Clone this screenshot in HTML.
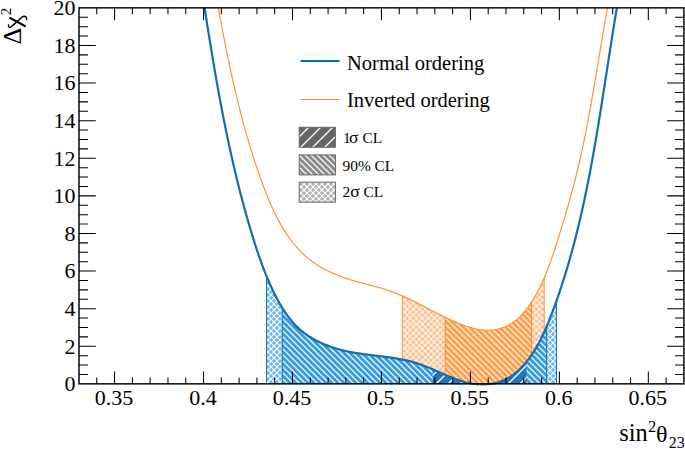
<!DOCTYPE html>
<html><head><meta charset="utf-8"><title>chart</title>
<style>html,body{margin:0;padding:0;background:#fff;}body{width:685px;height:449px;overflow:hidden;position:relative;font-family:"Liberation Serif",serif;}</style>
</head><body>
<svg width="685" height="449" viewBox="0 0 685 449" style="position:absolute;left:0;top:0">
<defs>
<pattern id="h1" patternUnits="userSpaceOnUse" width="12" height="12" patternTransform="translate(4,0)"><path d="M-3,15 L15,-3 M-15,15 L3,-3 M9,15 L27,-3" stroke="#fff" stroke-width="1.3"/></pattern>
<pattern id="h90" patternUnits="userSpaceOnUse" width="6" height="6"><path d="M-3,-3 L9,9 M-9,-3 L3,9 M3,-3 L15,9" stroke="#fff" stroke-width="1.3" stroke-opacity="0.92"/></pattern>
<pattern id="h90o" patternUnits="userSpaceOnUse" width="6" height="6" patternTransform="translate(1.3,0)"><path d="M-3,-3 L9,9 M-9,-3 L3,9 M3,-3 L15,9" stroke="#fff" stroke-width="1.3" stroke-opacity="0.92"/></pattern>
<pattern id="h2" patternUnits="userSpaceOnUse" width="6" height="6"><path d="M-3,-3 L9,9 M-9,-3 L3,9 M3,-3 L15,9 M-3,9 L9,-3 M-9,9 L3,-3 M3,9 L15,-3" stroke="#fff" stroke-width="1.8"/></pattern>
<pattern id="d2b" patternUnits="userSpaceOnUse" width="6" height="6" patternTransform="translate(1,1)"><path d="M0.75,0 L3,-2.25 L5.25,0 L3,2.25 Z M0.75,6 L3,3.75 L5.25,6 L3,8.25 Z M-2.25,3 L0,0.75 L2.25,3 L0,5.25 Z M3.75,3 L6,0.75 L8.25,3 L6,5.25 Z" fill="#70b8ea"/></pattern>
<pattern id="d2o" patternUnits="userSpaceOnUse" width="6" height="6" patternTransform="translate(2.3,0.2)"><path d="M0.75,0 L3,-2.25 L5.25,0 L3,2.25 Z M0.75,6 L3,3.75 L5.25,6 L3,8.25 Z M-2.25,3 L0,0.75 L2.25,3 L0,5.25 Z M3.75,3 L6,0.75 L8.25,3 L6,5.25 Z" fill="#ffbb85"/></pattern>
<pattern id="d2g" patternUnits="userSpaceOnUse" width="6" height="6" patternTransform="translate(1,1)"><path d="M0.75,0 L3,-2.25 L5.25,0 L3,2.25 Z M0.75,6 L3,3.75 L5.25,6 L3,8.25 Z M-2.25,3 L0,0.75 L2.25,3 L0,5.25 Z M3.75,3 L6,0.75 L8.25,3 L6,5.25 Z" fill="#b2b2b2"/></pattern>
<clipPath id="fr"><rect x="79.00" y="7.85" width="604.90" height="377.60"/></clipPath>
</defs>
<g clip-path="url(#fr)">
<path d="M402.30,383.85 L402.30,295.93 L402.78,296.14 L403.87,296.63 L404.96,297.12 L406.05,297.61 L407.14,298.12 L408.23,298.62 L409.31,299.13 L410.39,299.65 L411.47,300.17 L412.55,300.69 L413.63,301.22 L414.70,301.75 L415.78,302.28 L416.85,302.82 L417.93,303.35 L419.00,303.90 L420.07,304.44 L421.13,304.98 L422.20,305.53 L423.27,306.08 L424.33,306.63 L425.40,307.18 L426.46,307.73 L427.52,308.29 L428.59,308.84 L429.65,309.39 L430.71,309.94 L431.77,310.50 L432.84,311.05 L433.90,311.60 L434.97,312.15 L436.03,312.70 L437.10,313.25 L438.17,313.79 L439.24,314.34 L440.31,314.88 L441.39,315.42 L442.47,315.96 L443.55,316.49 L444.64,317.02 L445.73,317.55 L446.82,318.07 L447.92,318.59 L449.02,319.11 L450.12,319.62 L451.23,320.13 L452.35,320.63 L453.47,321.13 L454.60,321.62 L455.73,322.11 L456.86,322.59 L458.01,323.06 L459.15,323.53 L460.31,323.99 L461.46,324.43 L462.62,324.87 L463.78,325.30 L464.95,325.71 L466.12,326.12 L467.29,326.50 L468.47,326.88 L469.64,327.24 L470.82,327.58 L472.00,327.90 L473.18,328.21 L474.36,328.50 L475.55,328.77 L476.73,329.02 L477.91,329.25 L479.09,329.46 L480.28,329.65 L481.46,329.81 L482.63,329.95 L483.81,330.06 L484.99,330.15 L486.16,330.21 L487.33,330.24 L488.50,330.24 L489.66,330.22 L490.82,330.16 L491.98,330.08 L493.13,329.96 L494.28,329.81 L495.42,329.63 L496.56,329.42 L497.69,329.18 L498.81,328.91 L499.92,328.61 L501.03,328.28 L502.13,327.91 L503.21,327.52 L504.29,327.11 L505.35,326.66 L506.41,326.18 L507.45,325.68 L508.47,325.15 L509.49,324.59 L510.49,324.00 L511.47,323.39 L512.44,322.75 L513.40,322.09 L514.34,321.40 L515.27,320.69 L516.19,319.95 L517.09,319.19 L517.98,318.42 L518.85,317.62 L519.72,316.80 L520.57,315.96 L521.40,315.10 L522.23,314.23 L523.04,313.34 L523.84,312.43 L524.63,311.50 L525.41,310.56 L526.17,309.61 L526.92,308.64 L527.66,307.66 L528.39,306.67 L529.11,305.66 L529.82,304.65 L530.52,303.62 L531.20,302.59 L531.88,301.54 L532.54,300.49 L533.19,299.43 L533.84,298.37 L534.47,297.30 L535.09,296.22 L535.71,295.14 L536.31,294.06 L536.90,292.97 L537.49,291.88 L538.06,290.79 L538.63,289.70 L539.19,288.61 L539.74,287.51 L540.28,286.42 L540.81,285.33 L541.33,284.23 L541.85,283.14 L542.35,282.04 L542.85,280.94 L543.35,279.85 L543.83,278.75 L544.20,277.90 L544.20,383.85 Z" fill="#fff"/>
<path d="M402.30,383.85 L402.30,295.93 L402.78,296.14 L403.87,296.63 L404.96,297.12 L406.05,297.61 L407.14,298.12 L408.23,298.62 L409.31,299.13 L410.39,299.65 L411.47,300.17 L412.55,300.69 L413.63,301.22 L414.70,301.75 L415.78,302.28 L416.85,302.82 L417.93,303.35 L419.00,303.90 L420.07,304.44 L421.13,304.98 L422.20,305.53 L423.27,306.08 L424.33,306.63 L425.40,307.18 L426.46,307.73 L427.52,308.29 L428.59,308.84 L429.65,309.39 L430.71,309.94 L431.77,310.50 L432.84,311.05 L433.90,311.60 L434.97,312.15 L436.03,312.70 L437.10,313.25 L438.17,313.79 L439.24,314.34 L440.31,314.88 L441.39,315.42 L442.47,315.96 L443.55,316.49 L444.64,317.02 L445.73,317.55 L446.82,318.07 L447.92,318.59 L449.02,319.11 L450.12,319.62 L451.23,320.13 L452.35,320.63 L453.47,321.13 L454.60,321.62 L455.73,322.11 L456.86,322.59 L458.01,323.06 L459.15,323.53 L460.31,323.99 L461.46,324.43 L462.62,324.87 L463.78,325.30 L464.95,325.71 L466.12,326.12 L467.29,326.50 L468.47,326.88 L469.64,327.24 L470.82,327.58 L472.00,327.90 L473.18,328.21 L474.36,328.50 L475.55,328.77 L476.73,329.02 L477.91,329.25 L479.09,329.46 L480.28,329.65 L481.46,329.81 L482.63,329.95 L483.81,330.06 L484.99,330.15 L486.16,330.21 L487.33,330.24 L488.50,330.24 L489.66,330.22 L490.82,330.16 L491.98,330.08 L493.13,329.96 L494.28,329.81 L495.42,329.63 L496.56,329.42 L497.69,329.18 L498.81,328.91 L499.92,328.61 L501.03,328.28 L502.13,327.91 L503.21,327.52 L504.29,327.11 L505.35,326.66 L506.41,326.18 L507.45,325.68 L508.47,325.15 L509.49,324.59 L510.49,324.00 L511.47,323.39 L512.44,322.75 L513.40,322.09 L514.34,321.40 L515.27,320.69 L516.19,319.95 L517.09,319.19 L517.98,318.42 L518.85,317.62 L519.72,316.80 L520.57,315.96 L521.40,315.10 L522.23,314.23 L523.04,313.34 L523.84,312.43 L524.63,311.50 L525.41,310.56 L526.17,309.61 L526.92,308.64 L527.66,307.66 L528.39,306.67 L529.11,305.66 L529.82,304.65 L530.52,303.62 L531.20,302.59 L531.88,301.54 L532.54,300.49 L533.19,299.43 L533.84,298.37 L534.47,297.30 L535.09,296.22 L535.71,295.14 L536.31,294.06 L536.90,292.97 L537.49,291.88 L538.06,290.79 L538.63,289.70 L539.19,288.61 L539.74,287.51 L540.28,286.42 L540.81,285.33 L541.33,284.23 L541.85,283.14 L542.35,282.04 L542.85,280.94 L543.35,279.85 L543.83,278.75 L544.20,277.90 L544.20,383.85 Z" fill="url(#d2o)"/>
<path d="M445.20,383.85 L445.20,317.29 L445.73,317.55 L446.82,318.07 L447.92,318.59 L449.02,319.11 L450.12,319.62 L451.23,320.13 L452.35,320.63 L453.47,321.13 L454.60,321.62 L455.73,322.11 L456.86,322.59 L458.01,323.06 L459.15,323.53 L460.31,323.99 L461.46,324.43 L462.62,324.87 L463.78,325.30 L464.95,325.71 L466.12,326.12 L467.29,326.50 L468.47,326.88 L469.64,327.24 L470.82,327.58 L472.00,327.90 L473.18,328.21 L474.36,328.50 L475.55,328.77 L476.73,329.02 L477.91,329.25 L479.09,329.46 L480.28,329.65 L481.46,329.81 L482.63,329.95 L483.81,330.06 L484.99,330.15 L486.16,330.21 L487.33,330.24 L488.50,330.24 L489.66,330.22 L490.82,330.16 L491.98,330.08 L493.13,329.96 L494.28,329.81 L495.42,329.63 L496.56,329.42 L497.69,329.18 L498.81,328.91 L499.92,328.61 L501.03,328.28 L502.13,327.91 L503.21,327.52 L504.29,327.11 L505.35,326.66 L506.41,326.18 L507.45,325.68 L508.47,325.15 L509.49,324.59 L510.49,324.00 L511.47,323.39 L512.44,322.75 L513.40,322.09 L514.34,321.40 L515.27,320.69 L516.19,319.95 L517.09,319.19 L517.98,318.42 L518.85,317.62 L519.72,316.80 L520.57,315.96 L521.40,315.10 L522.23,314.23 L523.04,313.34 L523.84,312.43 L524.63,311.50 L525.41,310.56 L526.17,309.61 L526.92,308.64 L527.66,307.66 L528.39,306.67 L529.11,305.66 L529.82,304.65 L530.52,303.62 L531.20,302.59 L531.70,301.82 L531.70,383.85 Z" fill="#ff9a45"/>
<path d="M445.20,383.85 L445.20,317.29 L445.73,317.55 L446.82,318.07 L447.92,318.59 L449.02,319.11 L450.12,319.62 L451.23,320.13 L452.35,320.63 L453.47,321.13 L454.60,321.62 L455.73,322.11 L456.86,322.59 L458.01,323.06 L459.15,323.53 L460.31,323.99 L461.46,324.43 L462.62,324.87 L463.78,325.30 L464.95,325.71 L466.12,326.12 L467.29,326.50 L468.47,326.88 L469.64,327.24 L470.82,327.58 L472.00,327.90 L473.18,328.21 L474.36,328.50 L475.55,328.77 L476.73,329.02 L477.91,329.25 L479.09,329.46 L480.28,329.65 L481.46,329.81 L482.63,329.95 L483.81,330.06 L484.99,330.15 L486.16,330.21 L487.33,330.24 L488.50,330.24 L489.66,330.22 L490.82,330.16 L491.98,330.08 L493.13,329.96 L494.28,329.81 L495.42,329.63 L496.56,329.42 L497.69,329.18 L498.81,328.91 L499.92,328.61 L501.03,328.28 L502.13,327.91 L503.21,327.52 L504.29,327.11 L505.35,326.66 L506.41,326.18 L507.45,325.68 L508.47,325.15 L509.49,324.59 L510.49,324.00 L511.47,323.39 L512.44,322.75 L513.40,322.09 L514.34,321.40 L515.27,320.69 L516.19,319.95 L517.09,319.19 L517.98,318.42 L518.85,317.62 L519.72,316.80 L520.57,315.96 L521.40,315.10 L522.23,314.23 L523.04,313.34 L523.84,312.43 L524.63,311.50 L525.41,310.56 L526.17,309.61 L526.92,308.64 L527.66,307.66 L528.39,306.67 L529.11,305.66 L529.82,304.65 L530.52,303.62 L531.20,302.59 L531.70,301.82 L531.70,383.85 Z" fill="url(#h90o)"/>
<line x1="402.3" x2="402.3" y1="295.93" y2="383.85" stroke="#ff8f2e" stroke-width="1"/>
<line x1="544.2" x2="544.2" y1="277.90" y2="383.85" stroke="#ff8f2e" stroke-width="1"/>
<line x1="445.2" x2="445.2" y1="317.29" y2="383.85" stroke="#ff8f2e" stroke-width="1"/>
<line x1="531.7" x2="531.7" y1="301.82" y2="383.85" stroke="#ff8f2e" stroke-width="1"/>
<path d="M266.60,383.85 L266.60,276.24 L266.89,276.94 L267.42,278.22 L267.96,279.50 L268.51,280.77 L269.07,282.05 L269.63,283.32 L270.19,284.59 L270.77,285.86 L271.35,287.13 L271.94,288.39 L272.54,289.66 L273.14,290.92 L273.75,292.18 L274.37,293.44 L274.99,294.69 L275.63,295.95 L276.27,297.20 L276.92,298.44 L277.58,299.68 L278.26,300.92 L278.94,302.15 L279.63,303.37 L280.33,304.59 L281.04,305.80 L281.76,307.00 L282.49,308.19 L283.23,309.38 L283.99,310.55 L284.76,311.72 L285.54,312.87 L286.33,314.02 L287.13,315.15 L287.95,316.27 L288.78,317.37 L289.62,318.46 L290.48,319.54 L291.35,320.61 L292.24,321.66 L293.14,322.69 L294.06,323.71 L294.99,324.71 L295.93,325.69 L296.90,326.66 L297.88,327.61 L298.87,328.54 L299.88,329.45 L300.91,330.34 L301.95,331.21 L303.01,332.06 L304.09,332.90 L305.18,333.71 L306.28,334.51 L307.40,335.28 L308.53,336.04 L309.67,336.79 L310.83,337.51 L312.00,338.22 L313.18,338.90 L314.38,339.58 L315.58,340.23 L316.79,340.87 L318.02,341.49 L319.25,342.09 L320.50,342.68 L321.75,343.25 L323.01,343.80 L324.28,344.34 L325.56,344.87 L326.85,345.38 L328.14,345.87 L329.44,346.35 L330.74,346.81 L332.05,347.26 L333.37,347.69 L334.69,348.11 L336.02,348.51 L337.35,348.90 L338.68,349.28 L340.02,349.64 L341.35,349.99 L342.70,350.33 L344.04,350.65 L345.39,350.96 L346.73,351.26 L348.08,351.54 L349.43,351.82 L350.78,352.08 L352.13,352.33 L353.49,352.58 L354.84,352.81 L356.19,353.04 L357.55,353.25 L358.91,353.46 L360.27,353.67 L361.62,353.86 L362.98,354.05 L364.34,354.24 L365.70,354.42 L367.06,354.60 L368.42,354.77 L369.79,354.94 L371.15,355.11 L372.51,355.28 L373.87,355.44 L375.23,355.60 L376.59,355.77 L377.96,355.93 L379.32,356.10 L380.68,356.26 L382.04,356.43 L383.40,356.60 L384.76,356.78 L386.12,356.95 L387.48,357.14 L388.84,357.32 L390.20,357.51 L391.55,357.71 L392.91,357.92 L394.26,358.13 L395.62,358.35 L396.97,358.57 L398.32,358.81 L399.67,359.06 L401.02,359.31 L402.37,359.58 L403.72,359.85 L405.06,360.14 L406.41,360.44 L407.75,360.75 L409.09,361.08 L410.43,361.42 L411.76,361.77 L413.10,362.14 L414.43,362.52 L415.76,362.92 L417.09,363.34 L418.41,363.77 L419.74,364.22 L421.06,364.68 L422.38,365.16 L423.70,365.66 L425.02,366.16 L426.33,366.68 L427.64,367.21 L428.96,367.75 L430.27,368.30 L431.58,368.85 L432.89,369.41 L434.19,369.97 L435.50,370.54 L436.81,371.11 L438.11,371.69 L439.42,372.26 L440.72,372.84 L442.03,373.41 L443.33,373.98 L444.64,374.54 L445.94,375.11 L447.25,375.66 L448.55,376.21 L449.86,376.75 L451.17,377.29 L452.47,377.81 L453.78,378.32 L455.09,378.82 L456.40,379.31 L457.71,379.78 L459.03,380.23 L460.34,380.67 L461.66,381.10 L462.97,381.50 L464.29,381.88 L465.61,382.25 L466.94,382.59 L468.26,382.91 L469.59,383.20 L470.92,383.47 L472.25,383.71 L473.59,383.93 L474.93,384.12 L476.27,384.28 L477.61,384.40 L478.96,384.50 L480.31,384.56 L481.66,384.59 L483.01,384.59 L484.37,384.56 L485.72,384.49 L487.07,384.39 L488.42,384.26 L489.76,384.09 L491.10,383.89 L492.44,383.66 L493.77,383.39 L495.09,383.09 L496.40,382.76 L497.71,382.40 L499.00,382.00 L500.28,381.57 L501.55,381.10 L502.81,380.60 L504.05,380.07 L505.28,379.50 L506.49,378.90 L507.69,378.27 L508.87,377.60 L510.03,376.90 L511.17,376.17 L512.29,375.41 L513.40,374.62 L514.49,373.80 L515.56,372.95 L516.62,372.07 L517.66,371.17 L518.68,370.25 L519.68,369.30 L520.67,368.33 L521.64,367.34 L522.60,366.33 L523.54,365.30 L524.47,364.26 L525.37,363.19 L526.27,362.11 L527.14,361.02 L528.01,359.91 L528.85,358.79 L529.68,357.65 L530.50,356.51 L531.30,355.35 L532.09,354.19 L532.86,353.02 L533.62,351.84 L534.36,350.66 L535.09,349.47 L535.81,348.28 L536.52,347.07 L537.21,345.87 L537.89,344.65 L538.55,343.43 L539.21,342.21 L539.85,340.98 L540.49,339.75 L541.11,338.51 L541.73,337.27 L542.33,336.02 L542.92,334.77 L543.51,333.52 L544.09,332.26 L544.66,331.00 L545.22,329.73 L545.77,328.46 L546.32,327.19 L546.86,325.92 L547.39,324.64 L547.92,323.36 L548.44,322.08 L548.96,320.80 L549.47,319.51 L549.98,318.23 L550.48,316.94 L550.98,315.65 L551.48,314.36 L551.97,313.07 L552.46,311.77 L552.95,310.48 L553.43,309.18 L553.91,307.89 L554.39,306.59 L554.86,305.30 L555.33,304.00 L555.80,302.70 L556.27,301.40 L556.50,300.75 L556.50,383.85 Z" fill="#fff"/>
<path d="M266.60,383.85 L266.60,276.24 L266.89,276.94 L267.42,278.22 L267.96,279.50 L268.51,280.77 L269.07,282.05 L269.63,283.32 L270.19,284.59 L270.77,285.86 L271.35,287.13 L271.94,288.39 L272.54,289.66 L273.14,290.92 L273.75,292.18 L274.37,293.44 L274.99,294.69 L275.63,295.95 L276.27,297.20 L276.92,298.44 L277.58,299.68 L278.26,300.92 L278.94,302.15 L279.63,303.37 L280.33,304.59 L281.04,305.80 L281.76,307.00 L282.49,308.19 L283.23,309.38 L283.99,310.55 L284.76,311.72 L285.54,312.87 L286.33,314.02 L287.13,315.15 L287.95,316.27 L288.78,317.37 L289.62,318.46 L290.48,319.54 L291.35,320.61 L292.24,321.66 L293.14,322.69 L294.06,323.71 L294.99,324.71 L295.93,325.69 L296.90,326.66 L297.88,327.61 L298.87,328.54 L299.88,329.45 L300.91,330.34 L301.95,331.21 L303.01,332.06 L304.09,332.90 L305.18,333.71 L306.28,334.51 L307.40,335.28 L308.53,336.04 L309.67,336.79 L310.83,337.51 L312.00,338.22 L313.18,338.90 L314.38,339.58 L315.58,340.23 L316.79,340.87 L318.02,341.49 L319.25,342.09 L320.50,342.68 L321.75,343.25 L323.01,343.80 L324.28,344.34 L325.56,344.87 L326.85,345.38 L328.14,345.87 L329.44,346.35 L330.74,346.81 L332.05,347.26 L333.37,347.69 L334.69,348.11 L336.02,348.51 L337.35,348.90 L338.68,349.28 L340.02,349.64 L341.35,349.99 L342.70,350.33 L344.04,350.65 L345.39,350.96 L346.73,351.26 L348.08,351.54 L349.43,351.82 L350.78,352.08 L352.13,352.33 L353.49,352.58 L354.84,352.81 L356.19,353.04 L357.55,353.25 L358.91,353.46 L360.27,353.67 L361.62,353.86 L362.98,354.05 L364.34,354.24 L365.70,354.42 L367.06,354.60 L368.42,354.77 L369.79,354.94 L371.15,355.11 L372.51,355.28 L373.87,355.44 L375.23,355.60 L376.59,355.77 L377.96,355.93 L379.32,356.10 L380.68,356.26 L382.04,356.43 L383.40,356.60 L384.76,356.78 L386.12,356.95 L387.48,357.14 L388.84,357.32 L390.20,357.51 L391.55,357.71 L392.91,357.92 L394.26,358.13 L395.62,358.35 L396.97,358.57 L398.32,358.81 L399.67,359.06 L401.02,359.31 L402.37,359.58 L403.72,359.85 L405.06,360.14 L406.41,360.44 L407.75,360.75 L409.09,361.08 L410.43,361.42 L411.76,361.77 L413.10,362.14 L414.43,362.52 L415.76,362.92 L417.09,363.34 L418.41,363.77 L419.74,364.22 L421.06,364.68 L422.38,365.16 L423.70,365.66 L425.02,366.16 L426.33,366.68 L427.64,367.21 L428.96,367.75 L430.27,368.30 L431.58,368.85 L432.89,369.41 L434.19,369.97 L435.50,370.54 L436.81,371.11 L438.11,371.69 L439.42,372.26 L440.72,372.84 L442.03,373.41 L443.33,373.98 L444.64,374.54 L445.94,375.11 L447.25,375.66 L448.55,376.21 L449.86,376.75 L451.17,377.29 L452.47,377.81 L453.78,378.32 L455.09,378.82 L456.40,379.31 L457.71,379.78 L459.03,380.23 L460.34,380.67 L461.66,381.10 L462.97,381.50 L464.29,381.88 L465.61,382.25 L466.94,382.59 L468.26,382.91 L469.59,383.20 L470.92,383.47 L472.25,383.71 L473.59,383.93 L474.93,384.12 L476.27,384.28 L477.61,384.40 L478.96,384.50 L480.31,384.56 L481.66,384.59 L483.01,384.59 L484.37,384.56 L485.72,384.49 L487.07,384.39 L488.42,384.26 L489.76,384.09 L491.10,383.89 L492.44,383.66 L493.77,383.39 L495.09,383.09 L496.40,382.76 L497.71,382.40 L499.00,382.00 L500.28,381.57 L501.55,381.10 L502.81,380.60 L504.05,380.07 L505.28,379.50 L506.49,378.90 L507.69,378.27 L508.87,377.60 L510.03,376.90 L511.17,376.17 L512.29,375.41 L513.40,374.62 L514.49,373.80 L515.56,372.95 L516.62,372.07 L517.66,371.17 L518.68,370.25 L519.68,369.30 L520.67,368.33 L521.64,367.34 L522.60,366.33 L523.54,365.30 L524.47,364.26 L525.37,363.19 L526.27,362.11 L527.14,361.02 L528.01,359.91 L528.85,358.79 L529.68,357.65 L530.50,356.51 L531.30,355.35 L532.09,354.19 L532.86,353.02 L533.62,351.84 L534.36,350.66 L535.09,349.47 L535.81,348.28 L536.52,347.07 L537.21,345.87 L537.89,344.65 L538.55,343.43 L539.21,342.21 L539.85,340.98 L540.49,339.75 L541.11,338.51 L541.73,337.27 L542.33,336.02 L542.92,334.77 L543.51,333.52 L544.09,332.26 L544.66,331.00 L545.22,329.73 L545.77,328.46 L546.32,327.19 L546.86,325.92 L547.39,324.64 L547.92,323.36 L548.44,322.08 L548.96,320.80 L549.47,319.51 L549.98,318.23 L550.48,316.94 L550.98,315.65 L551.48,314.36 L551.97,313.07 L552.46,311.77 L552.95,310.48 L553.43,309.18 L553.91,307.89 L554.39,306.59 L554.86,305.30 L555.33,304.00 L555.80,302.70 L556.27,301.40 L556.50,300.75 L556.50,383.85 Z" fill="url(#d2b)"/>
<path d="M282.30,383.85 L282.30,307.89 L282.49,308.19 L283.23,309.38 L283.99,310.55 L284.76,311.72 L285.54,312.87 L286.33,314.02 L287.13,315.15 L287.95,316.27 L288.78,317.37 L289.62,318.46 L290.48,319.54 L291.35,320.61 L292.24,321.66 L293.14,322.69 L294.06,323.71 L294.99,324.71 L295.93,325.69 L296.90,326.66 L297.88,327.61 L298.87,328.54 L299.88,329.45 L300.91,330.34 L301.95,331.21 L303.01,332.06 L304.09,332.90 L305.18,333.71 L306.28,334.51 L307.40,335.28 L308.53,336.04 L309.67,336.79 L310.83,337.51 L312.00,338.22 L313.18,338.90 L314.38,339.58 L315.58,340.23 L316.79,340.87 L318.02,341.49 L319.25,342.09 L320.50,342.68 L321.75,343.25 L323.01,343.80 L324.28,344.34 L325.56,344.87 L326.85,345.38 L328.14,345.87 L329.44,346.35 L330.74,346.81 L332.05,347.26 L333.37,347.69 L334.69,348.11 L336.02,348.51 L337.35,348.90 L338.68,349.28 L340.02,349.64 L341.35,349.99 L342.70,350.33 L344.04,350.65 L345.39,350.96 L346.73,351.26 L348.08,351.54 L349.43,351.82 L350.78,352.08 L352.13,352.33 L353.49,352.58 L354.84,352.81 L356.19,353.04 L357.55,353.25 L358.91,353.46 L360.27,353.67 L361.62,353.86 L362.98,354.05 L364.34,354.24 L365.70,354.42 L367.06,354.60 L368.42,354.77 L369.79,354.94 L371.15,355.11 L372.51,355.28 L373.87,355.44 L375.23,355.60 L376.59,355.77 L377.96,355.93 L379.32,356.10 L380.68,356.26 L382.04,356.43 L383.40,356.60 L384.76,356.78 L386.12,356.95 L387.48,357.14 L388.84,357.32 L390.20,357.51 L391.55,357.71 L392.91,357.92 L394.26,358.13 L395.62,358.35 L396.97,358.57 L398.32,358.81 L399.67,359.06 L401.02,359.31 L402.37,359.58 L403.72,359.85 L405.06,360.14 L406.41,360.44 L407.75,360.75 L409.09,361.08 L410.43,361.42 L411.76,361.77 L413.10,362.14 L414.43,362.52 L415.76,362.92 L417.09,363.34 L418.41,363.77 L419.74,364.22 L421.06,364.68 L422.38,365.16 L423.70,365.66 L425.02,366.16 L426.33,366.68 L427.64,367.21 L428.96,367.75 L430.27,368.30 L431.58,368.85 L432.89,369.41 L434.19,369.97 L435.50,370.54 L436.81,371.11 L438.11,371.69 L439.42,372.26 L440.72,372.84 L442.03,373.41 L443.33,373.98 L444.64,374.54 L445.94,375.11 L447.25,375.66 L448.55,376.21 L449.86,376.75 L451.17,377.29 L452.47,377.81 L453.78,378.32 L455.09,378.82 L456.40,379.31 L457.71,379.78 L459.03,380.23 L460.34,380.67 L461.66,381.10 L462.97,381.50 L464.29,381.88 L465.61,382.25 L466.94,382.59 L468.26,382.91 L469.59,383.20 L470.92,383.47 L472.25,383.71 L473.59,383.93 L474.93,384.12 L476.27,384.28 L477.61,384.40 L478.96,384.50 L480.31,384.56 L481.66,384.59 L483.01,384.59 L484.37,384.56 L485.72,384.49 L487.07,384.39 L488.42,384.26 L489.76,384.09 L491.10,383.89 L492.44,383.66 L493.77,383.39 L495.09,383.09 L496.40,382.76 L497.71,382.40 L499.00,382.00 L500.28,381.57 L501.55,381.10 L502.81,380.60 L504.05,380.07 L505.28,379.50 L506.49,378.90 L507.69,378.27 L508.87,377.60 L510.03,376.90 L511.17,376.17 L512.29,375.41 L513.40,374.62 L514.49,373.80 L515.56,372.95 L516.62,372.07 L517.66,371.17 L518.68,370.25 L519.68,369.30 L520.67,368.33 L521.64,367.34 L522.60,366.33 L523.54,365.30 L524.47,364.26 L525.37,363.19 L526.27,362.11 L527.14,361.02 L528.01,359.91 L528.85,358.79 L529.68,357.65 L530.50,356.51 L531.30,355.35 L532.09,354.19 L532.86,353.02 L533.62,351.84 L534.36,350.66 L535.09,349.47 L535.81,348.28 L536.52,347.07 L537.21,345.87 L537.89,344.65 L538.55,343.43 L539.21,342.21 L539.85,340.98 L540.49,339.75 L541.11,338.51 L541.73,337.27 L542.33,336.02 L542.92,334.77 L543.51,333.52 L544.09,332.26 L544.66,331.00 L545.22,329.73 L545.77,328.46 L546.32,327.19 L546.60,326.53 L546.60,383.85 Z" fill="#369bdf"/>
<path d="M282.30,383.85 L282.30,307.89 L282.49,308.19 L283.23,309.38 L283.99,310.55 L284.76,311.72 L285.54,312.87 L286.33,314.02 L287.13,315.15 L287.95,316.27 L288.78,317.37 L289.62,318.46 L290.48,319.54 L291.35,320.61 L292.24,321.66 L293.14,322.69 L294.06,323.71 L294.99,324.71 L295.93,325.69 L296.90,326.66 L297.88,327.61 L298.87,328.54 L299.88,329.45 L300.91,330.34 L301.95,331.21 L303.01,332.06 L304.09,332.90 L305.18,333.71 L306.28,334.51 L307.40,335.28 L308.53,336.04 L309.67,336.79 L310.83,337.51 L312.00,338.22 L313.18,338.90 L314.38,339.58 L315.58,340.23 L316.79,340.87 L318.02,341.49 L319.25,342.09 L320.50,342.68 L321.75,343.25 L323.01,343.80 L324.28,344.34 L325.56,344.87 L326.85,345.38 L328.14,345.87 L329.44,346.35 L330.74,346.81 L332.05,347.26 L333.37,347.69 L334.69,348.11 L336.02,348.51 L337.35,348.90 L338.68,349.28 L340.02,349.64 L341.35,349.99 L342.70,350.33 L344.04,350.65 L345.39,350.96 L346.73,351.26 L348.08,351.54 L349.43,351.82 L350.78,352.08 L352.13,352.33 L353.49,352.58 L354.84,352.81 L356.19,353.04 L357.55,353.25 L358.91,353.46 L360.27,353.67 L361.62,353.86 L362.98,354.05 L364.34,354.24 L365.70,354.42 L367.06,354.60 L368.42,354.77 L369.79,354.94 L371.15,355.11 L372.51,355.28 L373.87,355.44 L375.23,355.60 L376.59,355.77 L377.96,355.93 L379.32,356.10 L380.68,356.26 L382.04,356.43 L383.40,356.60 L384.76,356.78 L386.12,356.95 L387.48,357.14 L388.84,357.32 L390.20,357.51 L391.55,357.71 L392.91,357.92 L394.26,358.13 L395.62,358.35 L396.97,358.57 L398.32,358.81 L399.67,359.06 L401.02,359.31 L402.37,359.58 L403.72,359.85 L405.06,360.14 L406.41,360.44 L407.75,360.75 L409.09,361.08 L410.43,361.42 L411.76,361.77 L413.10,362.14 L414.43,362.52 L415.76,362.92 L417.09,363.34 L418.41,363.77 L419.74,364.22 L421.06,364.68 L422.38,365.16 L423.70,365.66 L425.02,366.16 L426.33,366.68 L427.64,367.21 L428.96,367.75 L430.27,368.30 L431.58,368.85 L432.89,369.41 L434.19,369.97 L435.50,370.54 L436.81,371.11 L438.11,371.69 L439.42,372.26 L440.72,372.84 L442.03,373.41 L443.33,373.98 L444.64,374.54 L445.94,375.11 L447.25,375.66 L448.55,376.21 L449.86,376.75 L451.17,377.29 L452.47,377.81 L453.78,378.32 L455.09,378.82 L456.40,379.31 L457.71,379.78 L459.03,380.23 L460.34,380.67 L461.66,381.10 L462.97,381.50 L464.29,381.88 L465.61,382.25 L466.94,382.59 L468.26,382.91 L469.59,383.20 L470.92,383.47 L472.25,383.71 L473.59,383.93 L474.93,384.12 L476.27,384.28 L477.61,384.40 L478.96,384.50 L480.31,384.56 L481.66,384.59 L483.01,384.59 L484.37,384.56 L485.72,384.49 L487.07,384.39 L488.42,384.26 L489.76,384.09 L491.10,383.89 L492.44,383.66 L493.77,383.39 L495.09,383.09 L496.40,382.76 L497.71,382.40 L499.00,382.00 L500.28,381.57 L501.55,381.10 L502.81,380.60 L504.05,380.07 L505.28,379.50 L506.49,378.90 L507.69,378.27 L508.87,377.60 L510.03,376.90 L511.17,376.17 L512.29,375.41 L513.40,374.62 L514.49,373.80 L515.56,372.95 L516.62,372.07 L517.66,371.17 L518.68,370.25 L519.68,369.30 L520.67,368.33 L521.64,367.34 L522.60,366.33 L523.54,365.30 L524.47,364.26 L525.37,363.19 L526.27,362.11 L527.14,361.02 L528.01,359.91 L528.85,358.79 L529.68,357.65 L530.50,356.51 L531.30,355.35 L532.09,354.19 L532.86,353.02 L533.62,351.84 L534.36,350.66 L535.09,349.47 L535.81,348.28 L536.52,347.07 L537.21,345.87 L537.89,344.65 L538.55,343.43 L539.21,342.21 L539.85,340.98 L540.49,339.75 L541.11,338.51 L541.73,337.27 L542.33,336.02 L542.92,334.77 L543.51,333.52 L544.09,332.26 L544.66,331.00 L545.22,329.73 L545.77,328.46 L546.32,327.19 L546.60,326.53 L546.60,383.85 Z" fill="url(#h90)"/>
<path d="M432.70,383.85 L432.70,369.33 L432.89,369.41 L434.19,369.97 L435.50,370.54 L436.81,371.11 L438.11,371.69 L439.42,372.26 L440.72,372.84 L442.03,373.41 L443.33,373.98 L444.64,374.54 L445.94,375.11 L447.25,375.66 L448.55,376.21 L449.86,376.75 L451.17,377.29 L452.47,377.81 L453.78,378.32 L455.09,378.82 L456.40,379.31 L457.71,379.78 L459.03,380.23 L460.34,380.67 L461.66,381.10 L462.97,381.50 L464.29,381.88 L465.61,382.25 L466.94,382.59 L468.26,382.91 L469.59,383.20 L470.92,383.47 L472.25,383.71 L473.59,383.93 L474.93,384.12 L476.27,384.28 L477.61,384.40 L478.96,384.50 L480.31,384.56 L481.66,384.59 L483.01,384.59 L484.37,384.56 L485.72,384.49 L487.07,384.39 L488.42,384.26 L489.76,384.09 L491.10,383.89 L492.44,383.66 L493.77,383.39 L495.09,383.09 L496.40,382.76 L497.71,382.40 L499.00,382.00 L500.28,381.57 L501.55,381.10 L502.81,380.60 L504.05,380.07 L505.28,379.50 L506.49,378.90 L507.69,378.27 L508.87,377.60 L510.03,376.90 L511.17,376.17 L512.29,375.41 L513.40,374.62 L514.49,373.80 L515.56,372.95 L516.62,372.07 L517.66,371.17 L518.68,370.25 L519.68,369.30 L520.67,368.33 L521.64,367.34 L522.60,366.33 L523.54,365.30 L524.47,364.26 L525.37,363.19 L526.27,362.11 L526.40,361.95 L526.40,383.85 Z" fill="#1f77b8"/>
<path d="M432.70,383.85 L432.70,369.33 L432.89,369.41 L434.19,369.97 L435.50,370.54 L436.81,371.11 L438.11,371.69 L439.42,372.26 L440.72,372.84 L442.03,373.41 L443.33,373.98 L444.64,374.54 L445.94,375.11 L447.25,375.66 L448.55,376.21 L449.86,376.75 L451.17,377.29 L452.47,377.81 L453.78,378.32 L455.09,378.82 L456.40,379.31 L457.71,379.78 L459.03,380.23 L460.34,380.67 L461.66,381.10 L462.97,381.50 L464.29,381.88 L465.61,382.25 L466.94,382.59 L468.26,382.91 L469.59,383.20 L470.92,383.47 L472.25,383.71 L473.59,383.93 L474.93,384.12 L476.27,384.28 L477.61,384.40 L478.96,384.50 L480.31,384.56 L481.66,384.59 L483.01,384.59 L484.37,384.56 L485.72,384.49 L487.07,384.39 L488.42,384.26 L489.76,384.09 L491.10,383.89 L492.44,383.66 L493.77,383.39 L495.09,383.09 L496.40,382.76 L497.71,382.40 L499.00,382.00 L500.28,381.57 L501.55,381.10 L502.81,380.60 L504.05,380.07 L505.28,379.50 L506.49,378.90 L507.69,378.27 L508.87,377.60 L510.03,376.90 L511.17,376.17 L512.29,375.41 L513.40,374.62 L514.49,373.80 L515.56,372.95 L516.62,372.07 L517.66,371.17 L518.68,370.25 L519.68,369.30 L520.67,368.33 L521.64,367.34 L522.60,366.33 L523.54,365.30 L524.47,364.26 L525.37,363.19 L526.27,362.11 L526.40,361.95 L526.40,383.85 Z" fill="url(#h1)"/>
<line x1="266.6" x2="266.6" y1="276.24" y2="383.85" stroke="#1f77b4" stroke-width="1.1"/>
<line x1="556.5" x2="556.5" y1="300.75" y2="383.85" stroke="#1f77b4" stroke-width="1.1"/>
<line x1="282.3" x2="282.3" y1="307.89" y2="383.85" stroke="#1f77b4" stroke-width="1.1"/>
<line x1="546.6" x2="546.6" y1="326.53" y2="383.85" stroke="#1f77b4" stroke-width="1.1"/>
<path d="M216.78,0.06 L217.01,1.27 L217.23,2.47 L217.46,3.68 L217.68,4.89 L217.90,6.09 L218.13,7.30 L218.35,8.50 L218.58,9.71 L218.80,10.91 L219.03,12.11 L219.25,13.31 L219.48,14.51 L219.70,15.71 L219.93,16.91 L220.15,18.10 L220.38,19.30 L220.60,20.50 L220.83,21.69 L221.06,22.88 L221.28,24.08 L221.51,25.27 L221.74,26.46 L221.97,27.65 L222.20,28.84 L222.43,30.03 L222.65,31.22 L222.88,32.40 L223.11,33.59 L223.34,34.78 L223.58,35.96 L223.81,37.15 L224.04,38.33 L224.27,39.51 L224.51,40.69 L224.74,41.88 L224.97,43.06 L225.21,44.24 L225.44,45.42 L225.68,46.59 L225.92,47.77 L226.15,48.95 L226.39,50.13 L226.63,51.30 L226.87,52.48 L227.11,53.65 L227.35,54.83 L227.59,56.00 L227.83,57.17 L228.08,58.34 L228.32,59.52 L228.56,60.69 L228.81,61.86 L229.06,63.03 L229.30,64.20 L229.55,65.37 L229.80,66.53 L230.05,67.70 L230.30,68.87 L230.55,70.03 L230.80,71.20 L231.06,72.37 L231.31,73.53 L231.57,74.70 L231.82,75.86 L232.08,77.02 L232.34,78.19 L232.60,79.35 L232.86,80.51 L233.12,81.67 L233.38,82.83 L233.65,83.99 L233.91,85.15 L234.18,86.31 L234.44,87.47 L234.71,88.63 L234.98,89.79 L235.25,90.95 L235.53,92.10 L235.80,93.26 L236.07,94.42 L236.35,95.57 L236.63,96.73 L236.90,97.89 L237.18,99.04 L237.47,100.20 L237.75,101.35 L238.03,102.50 L238.32,103.66 L238.60,104.81 L238.89,105.97 L239.18,107.12 L239.47,108.27 L239.76,109.42 L240.06,110.57 L240.35,111.73 L240.65,112.88 L240.95,114.03 L241.25,115.18 L241.55,116.33 L241.85,117.48 L242.15,118.63 L242.46,119.78 L242.77,120.93 L243.08,122.08 L243.39,123.23 L243.70,124.38 L244.02,125.53 L244.33,126.67 L244.65,127.82 L244.97,128.97 L245.29,130.12 L245.61,131.27 L245.94,132.41 L246.26,133.56 L246.59,134.71 L246.92,135.86 L247.25,137.00 L247.59,138.15 L247.92,139.30 L248.26,140.44 L248.60,141.59 L248.94,142.74 L249.28,143.88 L249.63,145.03 L249.98,146.18 L250.33,147.32 L250.68,148.47 L251.03,149.61 L251.38,150.76 L251.74,151.91 L252.10,153.05 L252.46,154.20 L252.83,155.34 L253.19,156.49 L253.56,157.64 L253.93,158.78 L254.30,159.93 L254.67,161.07 L255.05,162.22 L255.43,163.36 L255.81,164.51 L256.19,165.66 L256.58,166.80 L256.96,167.95 L257.35,169.09 L257.75,170.24 L258.14,171.39 L258.54,172.53 L258.93,173.68 L259.34,174.83 L259.74,175.97 L260.15,177.12 L260.55,178.27 L260.96,179.41 L261.38,180.56 L261.79,181.71 L262.21,182.85 L262.63,184.00 L263.06,185.15 L263.48,186.29 L263.91,187.44 L264.35,188.58 L264.78,189.73 L265.22,190.87 L265.66,192.01 L266.11,193.15 L266.56,194.29 L267.01,195.43 L267.47,196.56 L267.93,197.70 L268.40,198.83 L268.87,199.96 L269.34,201.09 L269.82,202.21 L270.30,203.33 L270.79,204.45 L271.28,205.57 L271.77,206.68 L272.28,207.79 L272.78,208.90 L273.29,210.00 L273.81,211.10 L274.33,212.20 L274.86,213.29 L275.39,214.38 L275.93,215.47 L276.47,216.55 L277.02,217.63 L277.58,218.70 L278.14,219.77 L278.70,220.83 L279.28,221.89 L279.86,222.94 L280.44,223.99 L281.04,225.03 L281.63,226.07 L282.24,227.10 L282.85,228.12 L283.47,229.14 L284.10,230.16 L284.73,231.16 L285.37,232.17 L286.02,233.16 L286.68,234.15 L287.34,235.13 L288.01,236.11 L288.69,237.07 L289.37,238.04 L290.07,238.99 L290.77,239.94 L291.48,240.87 L292.20,241.81 L292.92,242.73 L293.66,243.65 L294.40,244.55 L295.15,245.45 L295.91,246.34 L296.68,247.23 L297.46,248.10 L298.25,248.97 L299.05,249.82 L299.85,250.67 L300.67,251.51 L301.49,252.34 L302.33,253.16 L303.17,253.97 L304.02,254.77 L304.89,255.56 L305.76,256.34 L306.64,257.11 L307.54,257.87 L308.44,258.62 L309.36,259.36 L310.28,260.09 L311.22,260.80 L312.16,261.51 L313.12,262.21 L314.09,262.89 L315.06,263.56 L316.05,264.23 L317.05,264.88 L318.06,265.52 L319.08,266.15 L320.11,266.76 L321.15,267.37 L322.20,267.97 L323.26,268.55 L324.32,269.13 L325.39,269.69 L326.47,270.25 L327.56,270.79 L328.66,271.33 L329.76,271.85 L330.87,272.37 L331.98,272.87 L333.10,273.37 L334.23,273.86 L335.36,274.34 L336.49,274.80 L337.63,275.26 L338.77,275.71 L339.92,276.16 L341.07,276.59 L342.23,277.01 L343.39,277.43 L344.55,277.84 L345.71,278.24 L346.87,278.63 L348.04,279.01 L349.21,279.39 L350.37,279.76 L351.54,280.12 L352.71,280.47 L353.88,280.82 L355.05,281.16 L356.22,281.49 L357.39,281.81 L358.55,282.13 L359.72,282.45 L360.89,282.75 L362.05,283.06 L363.21,283.36 L364.38,283.66 L365.54,283.96 L366.70,284.25 L367.86,284.55 L369.01,284.84 L370.17,285.13 L371.32,285.43 L372.47,285.73 L373.63,286.03 L374.77,286.33 L375.92,286.64 L377.07,286.95 L378.21,287.26 L379.35,287.58 L380.49,287.91 L381.63,288.25 L382.76,288.59 L383.89,288.94 L385.02,289.29 L386.15,289.66 L387.27,290.04 L388.40,290.42 L389.52,290.82 L390.63,291.22 L391.75,291.63 L392.86,292.05 L393.97,292.48 L395.08,292.91 L396.19,293.35 L397.29,293.80 L398.39,294.26 L399.49,294.72 L400.59,295.19 L401.69,295.66 L402.78,296.14 L403.87,296.63 L404.96,297.12 L406.05,297.61 L407.14,298.12 L408.23,298.62 L409.31,299.13 L410.39,299.65 L411.47,300.17 L412.55,300.69 L413.63,301.22 L414.70,301.75 L415.78,302.28 L416.85,302.82 L417.93,303.35 L419.00,303.90 L420.07,304.44 L421.13,304.98 L422.20,305.53 L423.27,306.08 L424.33,306.63 L425.40,307.18 L426.46,307.73 L427.52,308.29 L428.59,308.84 L429.65,309.39 L430.71,309.94 L431.77,310.50 L432.84,311.05 L433.90,311.60 L434.97,312.15 L436.03,312.70 L437.10,313.25 L438.17,313.79 L439.24,314.34 L440.31,314.88 L441.39,315.42 L442.47,315.96 L443.55,316.49 L444.64,317.02 L445.73,317.55 L446.82,318.07 L447.92,318.59 L449.02,319.11 L450.12,319.62 L451.23,320.13 L452.35,320.63 L453.47,321.13 L454.60,321.62 L455.73,322.11 L456.86,322.59 L458.01,323.06 L459.15,323.53 L460.31,323.99 L461.46,324.43 L462.62,324.87 L463.78,325.30 L464.95,325.71 L466.12,326.12 L467.29,326.50 L468.47,326.88 L469.64,327.24 L470.82,327.58 L472.00,327.90 L473.18,328.21 L474.36,328.50 L475.55,328.77 L476.73,329.02 L477.91,329.25 L479.09,329.46 L480.28,329.65 L481.46,329.81 L482.63,329.95 L483.81,330.06 L484.99,330.15 L486.16,330.21 L487.33,330.24 L488.50,330.24 L489.66,330.22 L490.82,330.16 L491.98,330.08 L493.13,329.96 L494.28,329.81 L495.42,329.63 L496.56,329.42 L497.69,329.18 L498.81,328.91 L499.92,328.61 L501.03,328.28 L502.13,327.91 L503.21,327.52 L504.29,327.11 L505.35,326.66 L506.41,326.18 L507.45,325.68 L508.47,325.15 L509.49,324.59 L510.49,324.00 L511.47,323.39 L512.44,322.75 L513.40,322.09 L514.34,321.40 L515.27,320.69 L516.19,319.95 L517.09,319.19 L517.98,318.42 L518.85,317.62 L519.72,316.80 L520.57,315.96 L521.40,315.10 L522.23,314.23 L523.04,313.34 L523.84,312.43 L524.63,311.50 L525.41,310.56 L526.17,309.61 L526.92,308.64 L527.66,307.66 L528.39,306.67 L529.11,305.66 L529.82,304.65 L530.52,303.62 L531.20,302.59 L531.88,301.54 L532.54,300.49 L533.19,299.43 L533.84,298.37 L534.47,297.30 L535.09,296.22 L535.71,295.14 L536.31,294.06 L536.90,292.97 L537.49,291.88 L538.06,290.79 L538.63,289.70 L539.19,288.61 L539.74,287.51 L540.28,286.42 L540.81,285.33 L541.33,284.23 L541.85,283.14 L542.35,282.04 L542.85,280.94 L543.35,279.85 L543.83,278.75 L544.31,277.65 L544.78,276.55 L545.24,275.45 L545.70,274.35 L546.15,273.25 L546.60,272.14 L547.04,271.04 L547.47,269.94 L547.90,268.83 L548.33,267.72 L548.75,266.62 L549.16,265.51 L549.57,264.40 L549.97,263.29 L550.37,262.18 L550.77,261.07 L551.16,259.96 L551.55,258.84 L551.94,257.73 L552.32,256.61 L552.70,255.50 L553.07,254.38 L553.45,253.26 L553.82,252.14 L554.18,251.02 L554.55,249.90 L554.91,248.78 L555.28,247.65 L555.64,246.53 L556.00,245.40 L556.36,244.27 L556.71,243.14 L557.07,242.01 L557.43,240.88 L557.78,239.75 L558.14,238.61 L558.49,237.48 L558.85,236.34 L559.20,235.21 L559.56,234.07 L559.91,232.93 L560.26,231.79 L560.61,230.64 L560.97,229.50 L561.32,228.36 L561.67,227.21 L562.02,226.07 L562.37,224.92 L562.72,223.77 L563.07,222.62 L563.41,221.47 L563.76,220.32 L564.11,219.17 L564.45,218.01 L564.80,216.86 L565.14,215.71 L565.48,214.55 L565.82,213.40 L566.16,212.24 L566.50,211.08 L566.84,209.92 L567.18,208.76 L567.51,207.60 L567.85,206.44 L568.18,205.28 L568.51,204.12 L568.84,202.96 L569.17,201.80 L569.50,200.63 L569.83,199.47 L570.15,198.30 L570.48,197.14 L570.80,195.97 L571.12,194.81 L571.44,193.64 L571.76,192.47 L572.07,191.31 L572.39,190.14 L572.70,188.97 L573.01,187.80 L573.32,186.64 L573.63,185.47 L573.94,184.30 L574.24,183.13 L574.54,181.96 L574.84,180.79 L575.14,179.62 L575.44,178.45 L575.73,177.28 L576.02,176.11 L576.31,174.94 L576.60,173.77 L576.89,172.60 L577.17,171.43 L577.46,170.26 L577.74,169.09 L578.02,167.91 L578.30,166.74 L578.57,165.57 L578.85,164.40 L579.12,163.23 L579.39,162.05 L579.66,160.88 L579.93,159.71 L580.19,158.54 L580.46,157.36 L580.72,156.19 L580.98,155.02 L581.24,153.85 L581.50,152.67 L581.75,151.50 L582.01,150.33 L582.26,149.15 L582.52,147.98 L582.77,146.80 L583.02,145.63 L583.26,144.46 L583.51,143.28 L583.75,142.11 L584.00,140.93 L584.24,139.76 L584.48,138.58 L584.72,137.41 L584.96,136.23 L585.20,135.06 L585.43,133.88 L585.67,132.70 L585.90,131.53 L586.13,130.35 L586.36,129.18 L586.59,128.00 L586.82,126.82 L587.05,125.65 L587.28,124.47 L587.50,123.29 L587.73,122.12 L587.95,120.94 L588.17,119.76 L588.40,118.58 L588.62,117.41 L588.84,116.23 L589.06,115.05 L589.27,113.87 L589.49,112.69 L589.71,111.52 L589.92,110.34 L590.14,109.16 L590.35,107.98 L590.56,106.80 L590.77,105.62 L590.99,104.44 L591.20,103.27 L591.41,102.09 L591.61,100.91 L591.82,99.73 L592.03,98.55 L592.24,97.37 L592.44,96.19 L592.65,95.01 L592.86,93.83 L593.06,92.65 L593.26,91.47 L593.47,90.29 L593.67,89.11 L593.87,87.93 L594.08,86.75 L594.28,85.56 L594.48,84.38 L594.68,83.20 L594.88,82.02 L595.08,80.84 L595.28,79.66 L595.48,78.48 L595.68,77.29 L595.88,76.11 L596.07,74.93 L596.27,73.75 L596.47,72.57 L596.67,71.38 L596.87,70.20 L597.06,69.02 L597.26,67.84 L597.46,66.65 L597.65,65.47 L597.85,64.29 L598.05,63.10 L598.24,61.92 L598.44,60.74 L598.64,59.55 L598.83,58.37 L599.03,57.19 L599.22,56.00 L599.42,54.82 L599.62,53.64 L599.81,52.45 L600.01,51.27 L600.21,50.08 L600.40,48.90 L600.60,47.71 L600.80,46.53 L601.00,45.35 L601.19,44.16 L601.39,42.98 L601.59,41.79 L601.79,40.61 L601.99,39.42 L602.19,38.24 L602.38,37.05 L602.58,35.86 L602.78,34.68 L602.98,33.49 L603.19,32.31 L603.39,31.12 L603.59,29.94 L603.79,28.75 L603.99,27.56 L604.20,26.38 L604.40,25.19 L604.60,24.01 L604.81,22.82 L605.01,21.63 L605.22,20.45 L605.43,19.26 L605.63,18.07 L605.84,16.88 L606.05,15.70 L606.26,14.51 L606.47,13.32 L606.68,12.14 L606.89,10.95 L607.10,9.76 L607.31,8.57 L607.53,7.39 L607.74,6.20 L607.96,5.01 L608.17,3.82 L608.39,2.64 L608.61,1.45" fill="none" stroke="#ff8f2e" stroke-width="1.15"/>
<path d="M203.45,0.25 L203.66,1.61 L203.87,2.96 L204.08,4.32 L204.29,5.68 L204.50,7.04 L204.71,8.40 L204.92,9.76 L205.13,11.12 L205.34,12.48 L205.55,13.84 L205.76,15.20 L205.97,16.56 L206.18,17.92 L206.40,19.28 L206.61,20.64 L206.82,22.00 L207.04,23.36 L207.25,24.72 L207.47,26.09 L207.68,27.45 L207.90,28.81 L208.11,30.17 L208.33,31.53 L208.55,32.90 L208.76,34.26 L208.98,35.62 L209.20,36.98 L209.42,38.35 L209.64,39.71 L209.86,41.07 L210.08,42.44 L210.30,43.80 L210.53,45.16 L210.75,46.53 L210.97,47.89 L211.19,49.25 L211.42,50.62 L211.64,51.98 L211.87,53.34 L212.10,54.71 L212.32,56.07 L212.55,57.43 L212.78,58.80 L213.01,60.16 L213.24,61.53 L213.47,62.89 L213.70,64.25 L213.93,65.62 L214.16,66.98 L214.40,68.34 L214.63,69.71 L214.87,71.07 L215.10,72.43 L215.34,73.80 L215.58,75.16 L215.81,76.52 L216.05,77.89 L216.29,79.25 L216.53,80.61 L216.78,81.98 L217.02,83.34 L217.26,84.70 L217.50,86.07 L217.75,87.43 L217.99,88.79 L218.24,90.15 L218.49,91.52 L218.74,92.88 L218.99,94.24 L219.24,95.60 L219.49,96.96 L219.74,98.33 L219.99,99.69 L220.25,101.05 L220.50,102.41 L220.76,103.77 L221.02,105.13 L221.28,106.49 L221.53,107.85 L221.79,109.21 L222.06,110.57 L222.32,111.93 L222.58,113.29 L222.85,114.65 L223.11,116.01 L223.38,117.37 L223.65,118.73 L223.92,120.09 L224.19,121.45 L224.46,122.80 L224.73,124.16 L225.00,125.52 L225.28,126.88 L225.55,128.23 L225.83,129.59 L226.11,130.95 L226.39,132.30 L226.67,133.66 L226.95,135.01 L227.23,136.37 L227.52,137.72 L227.80,139.08 L228.09,140.43 L228.38,141.79 L228.67,143.14 L228.96,144.49 L229.25,145.85 L229.54,147.20 L229.84,148.55 L230.13,149.90 L230.43,151.25 L230.73,152.60 L231.03,153.95 L231.33,155.30 L231.63,156.65 L231.94,158.00 L232.24,159.35 L232.55,160.70 L232.86,162.05 L233.17,163.40 L233.48,164.74 L233.79,166.09 L234.11,167.44 L234.42,168.78 L234.74,170.13 L235.06,171.47 L235.38,172.82 L235.70,174.16 L236.02,175.50 L236.35,176.85 L236.67,178.19 L237.00,179.53 L237.33,180.87 L237.66,182.21 L237.99,183.55 L238.33,184.89 L238.66,186.23 L239.00,187.57 L239.34,188.91 L239.68,190.25 L240.02,191.59 L240.37,192.92 L240.71,194.26 L241.06,195.59 L241.41,196.93 L241.76,198.26 L242.11,199.60 L242.46,200.93 L242.82,202.26 L243.18,203.59 L243.54,204.93 L243.90,206.26 L244.26,207.59 L244.62,208.92 L244.99,210.24 L245.36,211.57 L245.73,212.90 L246.10,214.23 L246.47,215.55 L246.84,216.88 L247.22,218.20 L247.60,219.53 L247.98,220.85 L248.36,222.17 L248.75,223.50 L249.13,224.82 L249.52,226.14 L249.91,227.46 L250.30,228.78 L250.70,230.10 L251.09,231.42 L251.49,232.73 L251.89,234.05 L252.29,235.36 L252.69,236.68 L253.10,237.99 L253.51,239.31 L253.92,240.62 L254.33,241.93 L254.74,243.24 L255.16,244.55 L255.58,245.86 L256.01,247.17 L256.43,248.48 L256.86,249.78 L257.30,251.09 L257.74,252.39 L258.18,253.69 L258.62,255.00 L259.07,256.30 L259.52,257.60 L259.98,258.90 L260.44,260.19 L260.91,261.49 L261.38,262.78 L261.85,264.08 L262.33,265.37 L262.82,266.66 L263.31,267.95 L263.80,269.24 L264.30,270.53 L264.81,271.81 L265.32,273.10 L265.84,274.38 L266.36,275.66 L266.89,276.94 L267.42,278.22 L267.96,279.50 L268.51,280.77 L269.07,282.05 L269.63,283.32 L270.19,284.59 L270.77,285.86 L271.35,287.13 L271.94,288.39 L272.54,289.66 L273.14,290.92 L273.75,292.18 L274.37,293.44 L274.99,294.69 L275.63,295.95 L276.27,297.20 L276.92,298.44 L277.58,299.68 L278.26,300.92 L278.94,302.15 L279.63,303.37 L280.33,304.59 L281.04,305.80 L281.76,307.00 L282.49,308.19 L283.23,309.38 L283.99,310.55 L284.76,311.72 L285.54,312.87 L286.33,314.02 L287.13,315.15 L287.95,316.27 L288.78,317.37 L289.62,318.46 L290.48,319.54 L291.35,320.61 L292.24,321.66 L293.14,322.69 L294.06,323.71 L294.99,324.71 L295.93,325.69 L296.90,326.66 L297.88,327.61 L298.87,328.54 L299.88,329.45 L300.91,330.34 L301.95,331.21 L303.01,332.06 L304.09,332.90 L305.18,333.71 L306.28,334.51 L307.40,335.28 L308.53,336.04 L309.67,336.79 L310.83,337.51 L312.00,338.22 L313.18,338.90 L314.38,339.58 L315.58,340.23 L316.79,340.87 L318.02,341.49 L319.25,342.09 L320.50,342.68 L321.75,343.25 L323.01,343.80 L324.28,344.34 L325.56,344.87 L326.85,345.38 L328.14,345.87 L329.44,346.35 L330.74,346.81 L332.05,347.26 L333.37,347.69 L334.69,348.11 L336.02,348.51 L337.35,348.90 L338.68,349.28 L340.02,349.64 L341.35,349.99 L342.70,350.33 L344.04,350.65 L345.39,350.96 L346.73,351.26 L348.08,351.54 L349.43,351.82 L350.78,352.08 L352.13,352.33 L353.49,352.58 L354.84,352.81 L356.19,353.04 L357.55,353.25 L358.91,353.46 L360.27,353.67 L361.62,353.86 L362.98,354.05 L364.34,354.24 L365.70,354.42 L367.06,354.60 L368.42,354.77 L369.79,354.94 L371.15,355.11 L372.51,355.28 L373.87,355.44 L375.23,355.60 L376.59,355.77 L377.96,355.93 L379.32,356.10 L380.68,356.26 L382.04,356.43 L383.40,356.60 L384.76,356.78 L386.12,356.95 L387.48,357.14 L388.84,357.32 L390.20,357.51 L391.55,357.71 L392.91,357.92 L394.26,358.13 L395.62,358.35 L396.97,358.57 L398.32,358.81 L399.67,359.06 L401.02,359.31 L402.37,359.58 L403.72,359.85 L405.06,360.14 L406.41,360.44 L407.75,360.75 L409.09,361.08 L410.43,361.42 L411.76,361.77 L413.10,362.14 L414.43,362.52 L415.76,362.92 L417.09,363.34 L418.41,363.77 L419.74,364.22 L421.06,364.68 L422.38,365.16 L423.70,365.66 L425.02,366.16 L426.33,366.68 L427.64,367.21 L428.96,367.75 L430.27,368.30 L431.58,368.85 L432.89,369.41 L434.19,369.97 L435.50,370.54 L436.81,371.11 L438.11,371.69 L439.42,372.26 L440.72,372.84 L442.03,373.41 L443.33,373.98 L444.64,374.54 L445.94,375.11 L447.25,375.66 L448.55,376.21 L449.86,376.75 L451.17,377.29 L452.47,377.81 L453.78,378.32 L455.09,378.82 L456.40,379.31 L457.71,379.78 L459.03,380.23 L460.34,380.67 L461.66,381.10 L462.97,381.50 L464.29,381.88 L465.61,382.25 L466.94,382.59 L468.26,382.91 L469.59,383.20 L470.92,383.47 L472.25,383.71 L473.59,383.93 L474.93,384.12 L476.27,384.28 L477.61,384.40 L478.96,384.50 L480.31,384.56 L481.66,384.59 L483.01,384.59 L484.37,384.56 L485.72,384.49 L487.07,384.39 L488.42,384.26 L489.76,384.09 L491.10,383.89 L492.44,383.66 L493.77,383.39 L495.09,383.09 L496.40,382.76 L497.71,382.40 L499.00,382.00 L500.28,381.57 L501.55,381.10 L502.81,380.60 L504.05,380.07 L505.28,379.50 L506.49,378.90 L507.69,378.27 L508.87,377.60 L510.03,376.90 L511.17,376.17 L512.29,375.41 L513.40,374.62 L514.49,373.80 L515.56,372.95 L516.62,372.07 L517.66,371.17 L518.68,370.25 L519.68,369.30 L520.67,368.33 L521.64,367.34 L522.60,366.33 L523.54,365.30 L524.47,364.26 L525.37,363.19 L526.27,362.11 L527.14,361.02 L528.01,359.91 L528.85,358.79 L529.68,357.65 L530.50,356.51 L531.30,355.35 L532.09,354.19 L532.86,353.02 L533.62,351.84 L534.36,350.66 L535.09,349.47 L535.81,348.28 L536.52,347.07 L537.21,345.87 L537.89,344.65 L538.55,343.43 L539.21,342.21 L539.85,340.98 L540.49,339.75 L541.11,338.51 L541.73,337.27 L542.33,336.02 L542.92,334.77 L543.51,333.52 L544.09,332.26 L544.66,331.00 L545.22,329.73 L545.77,328.46 L546.32,327.19 L546.86,325.92 L547.39,324.64 L547.92,323.36 L548.44,322.08 L548.96,320.80 L549.47,319.51 L549.98,318.23 L550.48,316.94 L550.98,315.65 L551.48,314.36 L551.97,313.07 L552.46,311.77 L552.95,310.48 L553.43,309.18 L553.91,307.89 L554.39,306.59 L554.86,305.30 L555.33,304.00 L555.80,302.70 L556.27,301.40 L556.73,300.10 L557.19,298.80 L557.65,297.49 L558.10,296.19 L558.55,294.89 L559.00,293.58 L559.45,292.28 L559.89,290.97 L560.33,289.66 L560.76,288.35 L561.20,287.04 L561.63,285.73 L562.06,284.42 L562.48,283.11 L562.91,281.80 L563.33,280.48 L563.74,279.17 L564.16,277.85 L564.57,276.54 L564.98,275.22 L565.39,273.91 L565.79,272.59 L566.20,271.27 L566.59,269.95 L566.99,268.63 L567.39,267.31 L567.78,265.99 L568.17,264.66 L568.55,263.34 L568.94,262.02 L569.32,260.69 L569.70,259.37 L570.08,258.04 L570.45,256.71 L570.82,255.39 L571.19,254.06 L571.56,252.73 L571.93,251.40 L572.29,250.07 L572.65,248.74 L573.01,247.41 L573.37,246.07 L573.72,244.74 L574.07,243.41 L574.42,242.07 L574.77,240.74 L575.11,239.40 L575.46,238.07 L575.80,236.73 L576.14,235.39 L576.48,234.06 L576.81,232.72 L577.14,231.38 L577.47,230.04 L577.80,228.70 L578.13,227.36 L578.45,226.02 L578.78,224.68 L579.10,223.33 L579.42,221.99 L579.73,220.65 L580.05,219.30 L580.36,217.96 L580.67,216.62 L580.98,215.27 L581.29,213.92 L581.59,212.58 L581.90,211.23 L582.20,209.88 L582.50,208.54 L582.80,207.19 L583.10,205.84 L583.39,204.49 L583.69,203.14 L583.98,201.79 L584.27,200.44 L584.56,199.09 L584.84,197.74 L585.13,196.38 L585.41,195.03 L585.69,193.68 L585.97,192.33 L586.25,190.97 L586.53,189.62 L586.81,188.26 L587.08,186.91 L587.35,185.55 L587.63,184.20 L587.90,182.84 L588.17,181.49 L588.43,180.13 L588.70,178.77 L588.96,177.41 L589.23,176.06 L589.49,174.70 L589.75,173.34 L590.01,171.98 L590.27,170.62 L590.52,169.26 L590.78,167.90 L591.03,166.54 L591.29,165.18 L591.54,163.82 L591.79,162.46 L592.04,161.10 L592.29,159.74 L592.53,158.38 L592.78,157.02 L593.03,155.65 L593.27,154.29 L593.51,152.93 L593.75,151.57 L593.99,150.20 L594.23,148.84 L594.47,147.48 L594.71,146.11 L594.95,144.75 L595.18,143.38 L595.42,142.02 L595.65,140.66 L595.89,139.29 L596.12,137.93 L596.35,136.56 L596.58,135.20 L596.81,133.83 L597.04,132.46 L597.27,131.10 L597.50,129.73 L597.72,128.37 L597.95,127.00 L598.18,125.63 L598.40,124.27 L598.62,122.90 L598.85,121.53 L599.07,120.17 L599.29,118.80 L599.51,117.43 L599.73,116.07 L599.96,114.70 L600.18,113.33 L600.39,111.97 L600.61,110.60 L600.83,109.23 L601.05,107.86 L601.27,106.50 L601.48,105.13 L601.70,103.76 L601.92,102.39 L602.13,101.03 L602.35,99.66 L602.56,98.29 L602.78,96.92 L602.99,95.56 L603.20,94.19 L603.42,92.82 L603.63,91.45 L603.84,90.09 L604.06,88.72 L604.27,87.35 L604.48,85.98 L604.69,84.62 L604.90,83.25 L605.12,81.88 L605.33,80.51 L605.54,79.15 L605.75,77.78 L605.96,76.41 L606.17,75.05 L606.38,73.68 L606.60,72.31 L606.81,70.95 L607.02,69.58 L607.23,68.21 L607.44,66.85 L607.65,65.48 L607.86,64.12 L608.07,62.75 L608.29,61.38 L608.50,60.02 L608.71,58.65 L608.92,57.29 L609.13,55.92 L609.35,54.56 L609.56,53.19 L609.77,51.83 L609.98,50.47 L610.20,49.10 L610.41,47.74 L610.62,46.37 L610.84,45.01 L611.05,43.65 L611.27,42.29 L611.48,40.92 L611.70,39.56 L611.91,38.20 L612.13,36.84 L612.35,35.47 L612.56,34.11 L612.78,32.75 L613.00,31.39 L613.22,30.03 L613.44,28.67 L613.65,27.31 L613.87,25.95 L614.10,24.59 L614.32,23.23 L614.54,21.87 L614.76,20.52 L614.98,19.16 L615.21,17.80 L615.43,16.44 L615.66,15.09 L615.88,13.73 L616.11,12.37 L616.34,11.02 L616.56,9.66 L616.79,8.31 L617.02,6.95 L617.25,5.60 L617.48,4.24 L617.72,2.89 L617.95,1.54" fill="none" stroke="#126eb0" stroke-width="2.2" stroke-linejoin="round"/>
</g>
<rect x="79.0" y="7.85" width="604.9" height="376.0" fill="none" stroke="#000" stroke-width="1.45"/>
<path d="M96.79,383.85 v-6.3 M96.79,7.85 v6.3 M114.58,383.85 v-12.4 M114.58,7.85 v12.4 M132.37,383.85 v-6.3 M132.37,7.85 v6.3 M150.16,383.85 v-6.3 M150.16,7.85 v6.3 M167.96,383.85 v-6.3 M167.96,7.85 v6.3 M185.75,383.85 v-6.3 M185.75,7.85 v6.3 M203.54,383.85 v-12.4 M203.54,7.85 v12.4 M221.33,383.85 v-6.3 M221.33,7.85 v6.3 M239.12,383.85 v-6.3 M239.12,7.85 v6.3 M256.91,383.85 v-6.3 M256.91,7.85 v6.3 M274.70,383.85 v-6.3 M274.70,7.85 v6.3 M292.49,383.85 v-12.4 M292.49,7.85 v12.4 M310.29,383.85 v-6.3 M310.29,7.85 v6.3 M328.08,383.85 v-6.3 M328.08,7.85 v6.3 M345.87,383.85 v-6.3 M345.87,7.85 v6.3 M363.66,383.85 v-6.3 M363.66,7.85 v6.3 M381.45,383.85 v-12.4 M381.45,7.85 v12.4 M399.24,383.85 v-6.3 M399.24,7.85 v6.3 M417.03,383.85 v-6.3 M417.03,7.85 v6.3 M434.82,383.85 v-6.3 M434.82,7.85 v6.3 M452.61,383.85 v-6.3 M452.61,7.85 v6.3 M470.41,383.85 v-12.4 M470.41,7.85 v12.4 M488.20,383.85 v-6.3 M488.20,7.85 v6.3 M505.99,383.85 v-6.3 M505.99,7.85 v6.3 M523.78,383.85 v-6.3 M523.78,7.85 v6.3 M541.57,383.85 v-6.3 M541.57,7.85 v6.3 M559.36,383.85 v-12.4 M559.36,7.85 v12.4 M577.15,383.85 v-6.3 M577.15,7.85 v6.3 M594.94,383.85 v-6.3 M594.94,7.85 v6.3 M612.74,383.85 v-6.3 M612.74,7.85 v6.3 M630.53,383.85 v-6.3 M630.53,7.85 v6.3 M648.32,383.85 v-12.4 M648.32,7.85 v12.4 M666.11,383.85 v-6.3 M666.11,7.85 v6.3 M79.0,374.45 h8.9 M683.9,374.45 h-8.9 M79.0,365.05 h8.9 M683.9,365.05 h-8.9 M79.0,355.65 h8.9 M683.9,355.65 h-8.9 M79.0,346.25 h16.8 M683.9,346.25 h-16.8 M79.0,336.85 h8.9 M683.9,336.85 h-8.9 M79.0,327.45 h8.9 M683.9,327.45 h-8.9 M79.0,318.05 h8.9 M683.9,318.05 h-8.9 M79.0,308.65 h16.8 M683.9,308.65 h-16.8 M79.0,299.25 h8.9 M683.9,299.25 h-8.9 M79.0,289.85 h8.9 M683.9,289.85 h-8.9 M79.0,280.45 h8.9 M683.9,280.45 h-8.9 M79.0,271.05 h16.8 M683.9,271.05 h-16.8 M79.0,261.65 h8.9 M683.9,261.65 h-8.9 M79.0,252.25 h8.9 M683.9,252.25 h-8.9 M79.0,242.85 h8.9 M683.9,242.85 h-8.9 M79.0,233.45 h16.8 M683.9,233.45 h-16.8 M79.0,224.05 h8.9 M683.9,224.05 h-8.9 M79.0,214.65 h8.9 M683.9,214.65 h-8.9 M79.0,205.25 h8.9 M683.9,205.25 h-8.9 M79.0,195.85 h16.8 M683.9,195.85 h-16.8 M79.0,186.45 h8.9 M683.9,186.45 h-8.9 M79.0,177.05 h8.9 M683.9,177.05 h-8.9 M79.0,167.65 h8.9 M683.9,167.65 h-8.9 M79.0,158.25 h16.8 M683.9,158.25 h-16.8 M79.0,148.85 h8.9 M683.9,148.85 h-8.9 M79.0,139.45 h8.9 M683.9,139.45 h-8.9 M79.0,130.05 h8.9 M683.9,130.05 h-8.9 M79.0,120.65 h16.8 M683.9,120.65 h-16.8 M79.0,111.25 h8.9 M683.9,111.25 h-8.9 M79.0,101.85 h8.9 M683.9,101.85 h-8.9 M79.0,92.45 h8.9 M683.9,92.45 h-8.9 M79.0,83.05 h16.8 M683.9,83.05 h-16.8 M79.0,73.65 h8.9 M683.9,73.65 h-8.9 M79.0,64.25 h8.9 M683.9,64.25 h-8.9 M79.0,54.85 h8.9 M683.9,54.85 h-8.9 M79.0,45.45 h16.8 M683.9,45.45 h-16.8 M79.0,36.05 h8.9 M683.9,36.05 h-8.9 M79.0,26.65 h8.9 M683.9,26.65 h-8.9 M79.0,17.25 h8.9 M683.9,17.25 h-8.9" stroke="#000" stroke-width="1.05" fill="none"/>
<g font-family="Liberation Serif, serif" font-size="22" fill="#000">
<text x="113.98" y="405.4" text-anchor="middle">0.35</text>
<text x="202.94" y="405.4" text-anchor="middle">0.4</text>
<text x="291.89" y="405.4" text-anchor="middle">0.45</text>
<text x="380.85" y="405.4" text-anchor="middle">0.5</text>
<text x="469.81" y="405.4" text-anchor="middle">0.55</text>
<text x="558.76" y="405.4" text-anchor="middle">0.6</text>
<text x="647.72" y="405.4" text-anchor="middle">0.65</text>
<text x="75.5" y="391.25" text-anchor="end">0</text>
<text x="75.5" y="353.65" text-anchor="end">2</text>
<text x="75.5" y="316.05" text-anchor="end">4</text>
<text x="75.5" y="278.45" text-anchor="end">6</text>
<text x="75.5" y="240.85" text-anchor="end">8</text>
<text x="75.5" y="203.25" text-anchor="end">10</text>
<text x="75.5" y="165.65" text-anchor="end">12</text>
<text x="75.5" y="128.05" text-anchor="end">14</text>
<text x="75.5" y="90.45" text-anchor="end">16</text>
<text x="75.5" y="52.85" text-anchor="end">18</text>
<text x="75.5" y="15.25" text-anchor="end">20</text>
</g>
<g font-family="Liberation Serif, serif" fill="#000">
<text x="619.3" y="441.3" font-size="24.4">sin</text>
<text x="647.9" y="431.6" font-size="16.5">2</text>
<text x="656.0" y="441.5" font-size="24">θ</text>
<text x="668.8" y="448.2" font-size="16">23</text>
<text transform="translate(21.2,44.6) rotate(-90)" font-size="26">Δ</text>
<text transform="translate(11.1,15.3) rotate(-90)" font-size="15">2</text>
<path d="M9.5,17.6 L25.8,26.5" stroke="#000" stroke-width="2" fill="none" stroke-linecap="butt"/>
<path d="M26.6,19.6 C26.9,17.2 25.4,15.9 23.6,16.2 C22.6,16.4 21.8,17.1 21,18 L12.6,25.6 C11.4,26.9 10.4,27.6 9.6,27.4 C8.6,27.1 8.3,26 8.5,25" stroke="#000" stroke-width="1.5" fill="none" stroke-linecap="round"/>
<line x1="300.6" x2="339.5" y1="61" y2="61" stroke="#0868ac" stroke-width="2.2"/>
<line x1="300.6" x2="339.5" y1="99.5" y2="99.5" stroke="#ff8f2e" stroke-width="1.15"/>
<text x="347" y="69.7" font-size="20.5">Normal ordering</text>
<text x="347" y="107.4" font-size="20.5">Inverted ordering</text>
<rect x="299.2" y="127.3" width="36.2" height="20" fill="#666"/>
<rect x="299.2" y="127.3" width="36.2" height="20" fill="url(#h1)" stroke="#6a6a6a" stroke-width="1"/>
<text x="343" y="143.2" font-size="15.4">1<tspan font-size="17.5" dx="-1.6">σ</tspan> CL</text>
<rect x="299.2" y="154.9" width="36.2" height="20" fill="#8a8a8a"/>
<rect x="299.2" y="154.9" width="36.2" height="20" fill="url(#h90)" stroke="#6a6a6a" stroke-width="1"/>
<text x="342.5" y="170.6" font-size="15.4">90% CL</text>
<rect x="299.2" y="182.2" width="36.2" height="20" fill="#fff"/>
<rect x="299.2" y="182.2" width="36.2" height="20" fill="url(#d2g)" stroke="#6a6a6a" stroke-width="1"/>
<text x="342.5" y="197.2" font-size="15.4">2<tspan font-size="17.5">σ</tspan> CL</text>
</g>
</svg>
</body></html>
